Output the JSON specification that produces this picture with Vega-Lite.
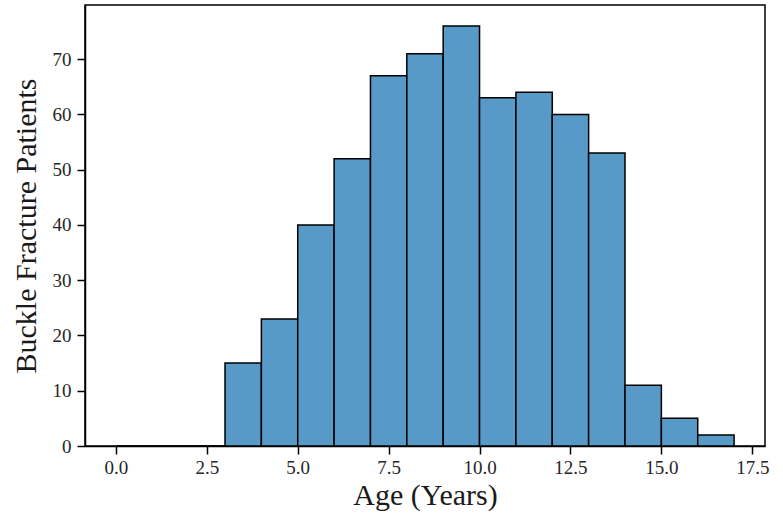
{
  "$schema": "https://vega.github.io/schema/vega-lite/v6.json",
  "width": 680,
  "height": 441,
  "autosize": {"type": "none"},
  "padding": {"left": 85, "top": 5, "right": 18, "bottom": 83},
  "config": {
    "font": "Liberation Serif",
    "view": {"stroke": "black", "strokeWidth": 1.5},
    "axis": {
      "domainColor": "black", "domainWidth": 1.5, "tickColor": "black", "tickWidth": 1.5,
      "tickSize": 8, "labelColor": "#262626", "titleColor": "#1a1a1a", "grid": false
    }
  },
  "data": {
    "values": [
      {"bin_start": 0, "bin_end": 1, "count": 0},
      {"bin_start": 1, "bin_end": 2, "count": 0},
      {"bin_start": 2, "bin_end": 3, "count": 0},
      {"bin_start": 3, "bin_end": 4, "count": 15},
      {"bin_start": 4, "bin_end": 5, "count": 23},
      {"bin_start": 5, "bin_end": 6, "count": 40},
      {"bin_start": 6, "bin_end": 7, "count": 52},
      {"bin_start": 7, "bin_end": 8, "count": 67},
      {"bin_start": 8, "bin_end": 9, "count": 71},
      {"bin_start": 9, "bin_end": 10, "count": 76},
      {"bin_start": 10, "bin_end": 11, "count": 63},
      {"bin_start": 11, "bin_end": 12, "count": 64},
      {"bin_start": 12, "bin_end": 13, "count": 60},
      {"bin_start": 13, "bin_end": 14, "count": 53},
      {"bin_start": 14, "bin_end": 15, "count": 11},
      {"bin_start": 15, "bin_end": 16, "count": 5},
      {"bin_start": 16, "bin_end": 17, "count": 2}
    ]
  },
  "mark": {"type": "bar", "fill": "#5799c7", "stroke": "black", "strokeWidth": 1.5},
  "encoding": {
    "x": {
      "field": "bin_start", "type": "quantitative",
      "scale": {"domain": [-0.85, 17.85], "nice": false, "zero": false},
      "axis": {"values": [0, 2.5, 5, 7.5, 10, 12.5, 15, 17.5], "format": ".1f", "title": "Age (Years)",
        "labelFont": "Liberation Serif", "labelFontSize": 19, "labelPadding": 4,
        "titleFont": "Liberation Serif", "titleFontSize": 30, "titleFontWeight": "normal", "titlePadding": 3}
    },
    "x2": {"field": "bin_end"},
    "y": {
      "field": "count", "type": "quantitative",
      "scale": {"domain": [0, 79.8], "nice": false},
      "axis": {"values": [0, 10, 20, 30, 40, 50, 60, 70], "title": "Buckle Fracture Patients",
        "labelFont": "Liberation Serif", "labelFontSize": 19, "labelPadding": 6,
        "titleFont": "Liberation Serif", "titleFontSize": 30, "titleFontWeight": "normal", "titlePadding": 11}
    },
    "y2": {"datum": 0}
  }
}
